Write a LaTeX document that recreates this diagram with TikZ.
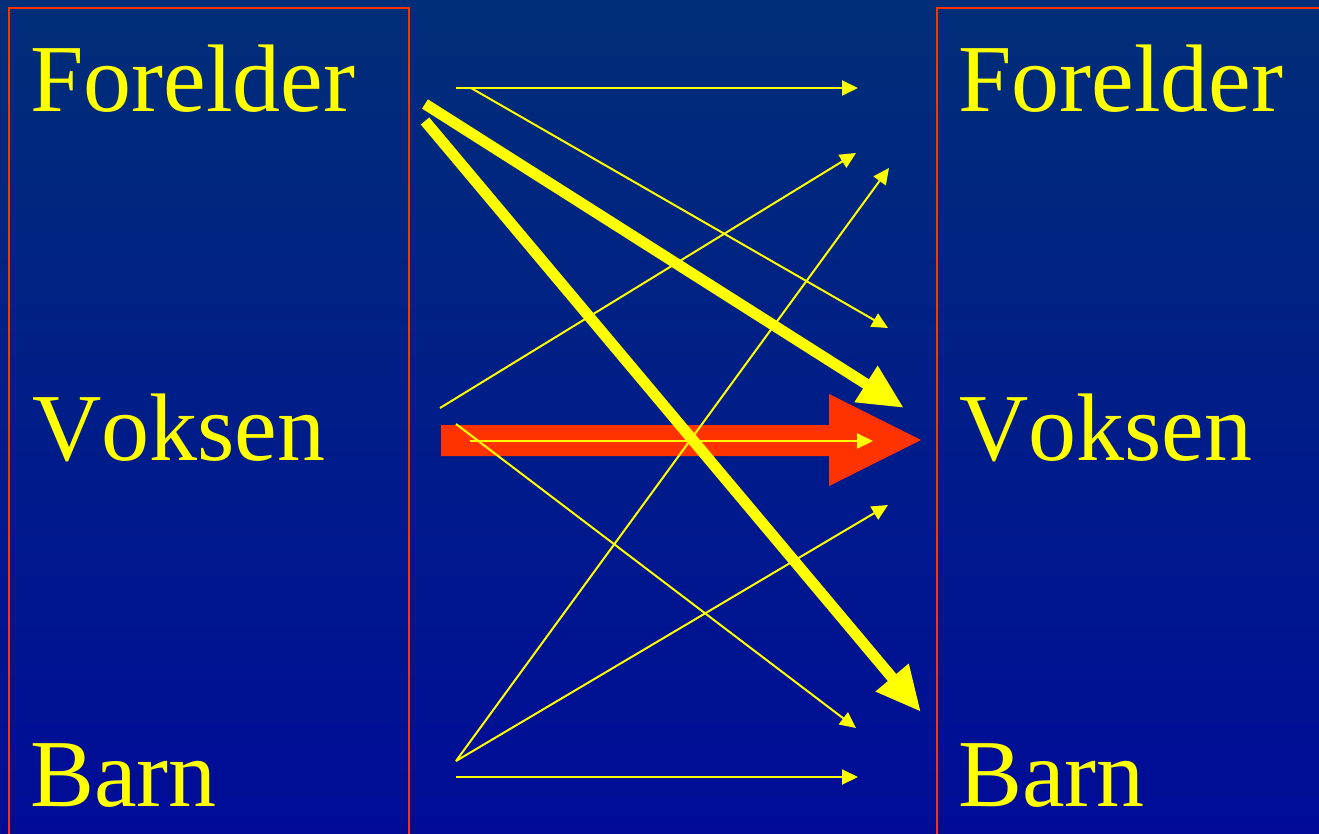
\documentclass[tikz,border=0pt]{standalone}
\usepackage{fontspec}
\setmainfont[Kerning=Off]{Liberation Serif}
\usetikzlibrary{arrows.meta}
\definecolor{bgtop}{RGB}{0,46,120}
\definecolor{bgbot}{RGB}{0,12,152}
\definecolor{boxred}{RGB}{255,51,0}
\definecolor{ylw}{RGB}{255,255,0}
\tikzset{
  lbl/.style={anchor=base west, inner sep=0pt, text=ylw, font=\fontsize{96}{100}\selectfont},
  thin arrow/.style={draw=ylw, line width=2pt, -{Triangle[length=16pt,width=15pt]}},
  thick arrow/.style={draw=ylw, line width=11pt, -{Triangle[length=45pt,width=40pt]}},
  panel/.style={draw=boxred, line width=1.5pt},
  bigred/.style={fill=boxred, draw=none}
}
\begin{document}
\begin{tikzpicture}[x=1pt,y=-1pt]
\useasboundingbox (0,0) rectangle (1319,834);
\shade[top color=bgtop, bottom color=bgbot] (0,0) rectangle (1319,834);
% panels
\draw[panel] (9,8) rectangle (409,840);
\draw[panel] (937,8) rectangle (1325,840);
% labels
\node[lbl] (lf) at (30,112) {Forelder};
\node[lbl] (lv) at (32,460) {Voksen};
\node[lbl] (lb) at (30,806) {Barn};
\node[lbl] (rf) at (958,112) {Forelder};
\node[lbl] (rv) at (959,460) {Voksen};
\node[lbl] (rb) at (958,806) {Barn};
% coordinates
\coordinate (fa) at (456,88);
\coordinate (fb) at (471,88);
\coordinate (fta) at (425,104);
\coordinate (ftb) at (425,121);
\coordinate (va) at (440,408);
\coordinate (vb) at (470,441);
\coordinate (vc) at (456,424);
\coordinate (ba) at (456,761);
\coordinate (bb) at (456,777);
\coordinate (tf1) at (858,88);
\coordinate (tv1) at (888,328);
\coordinate (tf2) at (856,153);
\coordinate (tv2) at (873,441);
\coordinate (tb1) at (856,728);
\coordinate (tf3) at (889,168);
\coordinate (tv3) at (888,505);
\coordinate (tb2) at (858,777);
\coordinate (tvt) at (904,408);
\coordinate (tbt) at (921,712);
% big red arrow
\fill[bigred] (441,425) -- (829,425) -- (829,394) -- (921,440) -- (829,486) -- (829,456) -- (441,456) -- cycle;
% thin arrows
\draw[thin arrow] (fa) -- (tf1);
\draw[thin arrow] (fb) -- (tv1);
\draw[thin arrow] (va) -- (tf2);
\draw[thin arrow] (vb) -- (tv2);
\draw[thin arrow] (vc) -- (tb1);
\draw[thin arrow] (ba) -- (tf3);
\draw[thin arrow] (ba) -- (tv3);
\draw[thin arrow] (bb) -- (tb2);
% thick arrows
\draw[thick arrow] (fta) -- (tvt);
\draw[thick arrow] (ftb) -- (tbt);
\end{tikzpicture}
\end{document}
